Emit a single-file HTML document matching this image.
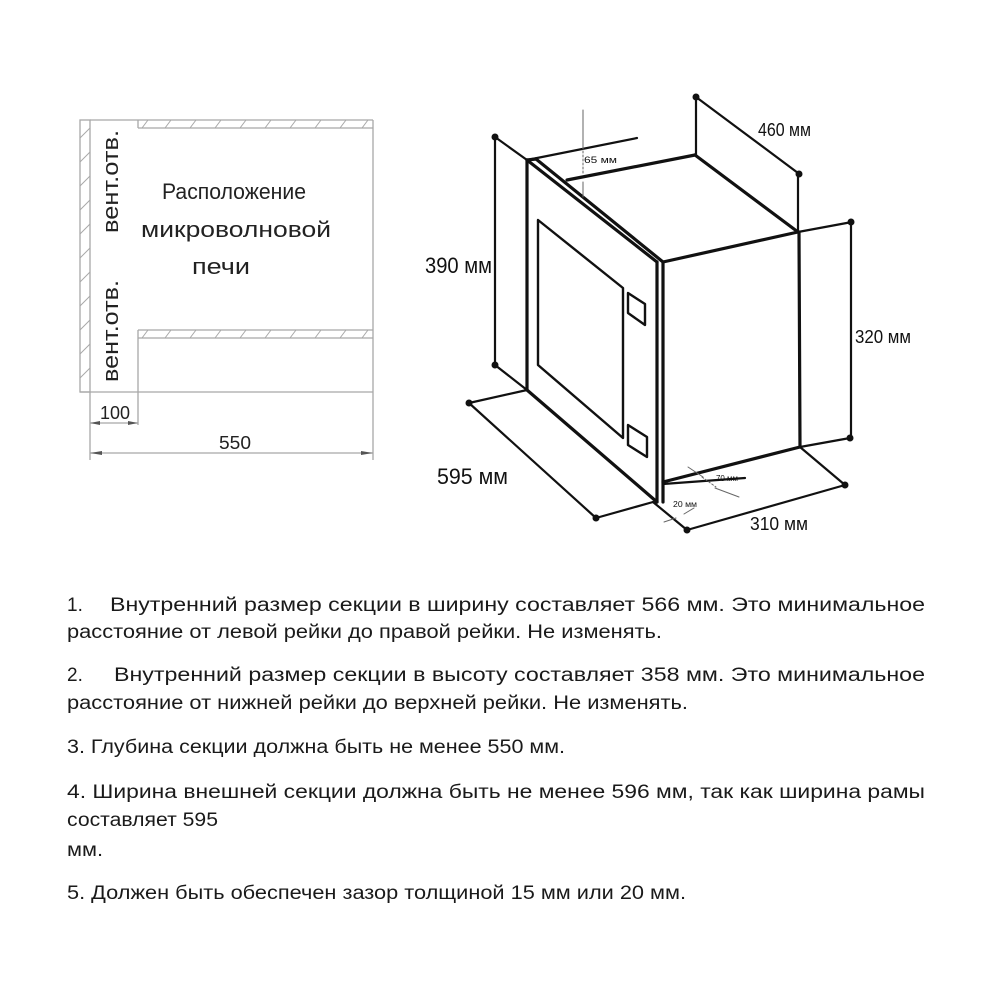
<!DOCTYPE html>
<html><head><meta charset="utf-8"><style>
html,body{margin:0;padding:0;background:#fff;}
svg{display:block;}
</style></head><body>
<svg width="1000" height="1000" viewBox="0 0 1000 1000" xmlns="http://www.w3.org/2000/svg" font-family="Liberation Sans, sans-serif">
<rect width="1000" height="1000" fill="#fff"/>
<!-- LEFT DIAGRAM -->
<g stroke="#a8a8a8" stroke-width="1.3" fill="none">
  <rect x="80" y="120" width="10" height="272"/>
  <line x1="90" y1="120" x2="373" y2="120"/>
  <line x1="138" y1="128" x2="373" y2="128"/>
  <line x1="138" y1="120" x2="138" y2="128"/>
  <line x1="373" y1="120" x2="373" y2="392"/>
  <line x1="138" y1="330" x2="373" y2="330"/>
  <line x1="138" y1="338" x2="373" y2="338"/>
  <line x1="138" y1="330" x2="138" y2="425"/>
  <line x1="80" y1="392" x2="373" y2="392"/>
  <line x1="90" y1="392" x2="90" y2="460"/>
  <line x1="373" y1="392" x2="373" y2="460"/>
  <line x1="90" y1="423" x2="138" y2="423"/>
  <line x1="90" y1="453" x2="373" y2="453"/>
</g>
<g stroke="#a8a8a8" stroke-width="1">
  <path d="M80 138l10-10M80 162l10-10M80 186l10-10M80 210l10-10M80 234l10-10M80 258l10-10M80 282l10-10M80 306l10-10M80 330l10-10M80 354l10-10M80 378l10-10"/>
  <path d="M142 128l6-8M165 128l6-8M190 128l6-8M215 128l6-8M240 128l6-8M265 128l6-8M290 128l6-8M315 128l6-8M340 128l6-8M362 128l6-8"/>
  <path d="M142 338l6-8M165 338l6-8M190 338l6-8M215 338l6-8M240 338l6-8M265 338l6-8M290 338l6-8M315 338l6-8M340 338l6-8M362 338l6-8"/>
</g>
<g fill="#555">
  <path d="M90 423l10-2v4z"/><path d="M138 423l-10-2v4z"/>
  <path d="M90 453l12-2v4z"/><path d="M373 453l-12-2v4z"/>
</g>
<g fill="#222" font-size="22">
  <text transform="translate(118,233) rotate(-90)" textLength="103" lengthAdjust="spacingAndGlyphs">вент.отв.</text>
  <text transform="translate(118,382) rotate(-90)" textLength="102" lengthAdjust="spacingAndGlyphs">вент.отв.</text>
  <text x="162" y="199" textLength="144" lengthAdjust="spacingAndGlyphs">Расположение</text>
  <text x="141" y="237" textLength="190" lengthAdjust="spacingAndGlyphs">микроволновой</text>
  <text x="192" y="274" textLength="58" lengthAdjust="spacingAndGlyphs">печи</text>
  <text x="100" y="419" font-size="18" textLength="30" lengthAdjust="spacingAndGlyphs">100</text>
  <text x="219" y="449" font-size="18" textLength="32" lengthAdjust="spacingAndGlyphs">550</text>
</g>
<!-- RIGHT DIAGRAM -->
<g stroke="#111" fill="none" stroke-linecap="round" stroke-linejoin="round">
  <g stroke-width="2.2">
    <line x1="495" y1="137" x2="495" y2="365"/>
    <line x1="495" y1="137" x2="527" y2="160"/>
    <line x1="495" y1="365" x2="527" y2="390"/>
    <line x1="527" y1="160" x2="637" y2="138"/>
    <line x1="696" y1="97" x2="696" y2="155"/>
    <line x1="696" y1="97" x2="798" y2="173"/>
    <line x1="798" y1="173" x2="798" y2="232"/>
    <line x1="798" y1="232" x2="852" y2="222"/>
    <line x1="851" y1="222" x2="851" y2="438"/>
    <line x1="800" y1="447" x2="850" y2="438"/>
    <line x1="469" y1="403" x2="527" y2="390"/>
    <line x1="469" y1="403" x2="596" y2="518"/>
    <line x1="596" y1="518" x2="653" y2="502"/>
    <line x1="800" y1="447" x2="845" y2="485"/>
    <line x1="845" y1="485" x2="687" y2="530"/>
    <line x1="653" y1="502" x2="687" y2="530"/>
    <line x1="663" y1="484" x2="745" y2="478"/>
  </g>
  <g stroke-width="3.2">
    <line x1="527" y1="160" x2="527" y2="390"/>
    <line x1="527" y1="160" x2="657" y2="262"/>
    <line x1="536" y1="159" x2="663" y2="262"/>
    <line x1="527" y1="160" x2="536" y2="159"/>
    <line x1="657" y1="262" x2="657" y2="502"/>
    <line x1="663" y1="262" x2="663" y2="502"/>
    <line x1="527" y1="390" x2="657" y2="502"/>
    <line x1="567" y1="180" x2="695" y2="155"/>
    <line x1="695" y1="155" x2="798" y2="232"/>
    <line x1="663" y1="262" x2="798" y2="232"/>
    <line x1="799" y1="232" x2="800" y2="447"/>
    <line x1="663" y1="482" x2="800" y2="447"/>
  </g>
  <g stroke-width="2.4">
    <polygon points="538,220 623,288 623,438 538,365"/>
    <polygon points="628,293 645,304 645,325 628,313"/>
    <polygon points="628,425 647,437 647,457 628,445"/>
  </g>
  <g stroke="#666" stroke-width="1">
    <line x1="583" y1="110" x2="583" y2="147"/>
    <line x1="583" y1="147" x2="583" y2="175" stroke-dasharray="2,2"/>
    <line x1="583" y1="182" x2="583" y2="197"/>
    <line x1="688" y1="467" x2="703" y2="477"/>
    <line x1="715" y1="488" x2="739" y2="497"/>
    <line x1="702" y1="477" x2="716" y2="487" stroke-dasharray="2,2"/>
    <line x1="664" y1="522" x2="676" y2="518"/>
    <line x1="684" y1="514" x2="694" y2="508"/>
  </g>
</g>
<g fill="#111">
  <circle cx="495" cy="137" r="3.5"/><circle cx="495" cy="365" r="3.5"/>
  <circle cx="696" cy="97" r="3.5"/><circle cx="799" cy="174" r="3.5"/>
  <circle cx="851" cy="222" r="3.5"/><circle cx="850" cy="438" r="3.5"/>
  <circle cx="469" cy="403" r="3.5"/><circle cx="596" cy="518" r="3.5"/>
  <circle cx="845" cy="485" r="3.5"/><circle cx="687" cy="530" r="3.5"/>
</g>
<g fill="#111" font-size="22">
  <text x="425" y="273" textLength="67" lengthAdjust="spacingAndGlyphs">390 мм</text>
  <text x="758" y="136" font-size="18" textLength="53" lengthAdjust="spacingAndGlyphs">460 мм</text>
  <text x="855" y="343" font-size="18" textLength="56" lengthAdjust="spacingAndGlyphs">320 мм</text>
  <text x="437" y="484" textLength="71" lengthAdjust="spacingAndGlyphs">595 мм</text>
  <text x="750" y="530" font-size="18" textLength="58" lengthAdjust="spacingAndGlyphs">310 мм</text>
  <text x="584" y="163" font-size="9" textLength="33" lengthAdjust="spacingAndGlyphs">65 мм</text>
  <text x="716" y="481" font-size="8" textLength="22" lengthAdjust="spacingAndGlyphs">70 мм</text>
  <text x="673" y="507" font-size="8" textLength="24" lengthAdjust="spacingAndGlyphs">20 мм</text>
</g>
<!-- TEXT -->
<g fill="#1a1a1a" font-size="19">
  <text x="67" y="611">1.</text>
  <text x="110" y="611" textLength="815" lengthAdjust="spacingAndGlyphs">Внутренний  размер  секции  в  ширину  составляет  566  мм.  Это  минимальное</text>
  <text x="67" y="638" textLength="595" lengthAdjust="spacingAndGlyphs">расстояние от левой рейки до правой рейки. Не изменять.</text>
  <text x="67" y="681">2.</text>
  <text x="114" y="681" textLength="811" lengthAdjust="spacingAndGlyphs">Внутренний  размер  секции  в  высоту  составляет  358  мм.   Это  минимальное</text>
  <text x="67" y="709" textLength="621" lengthAdjust="spacingAndGlyphs">расстояние от нижней рейки до верхней рейки. Не изменять.</text>
  <text x="67" y="753" textLength="498" lengthAdjust="spacingAndGlyphs">3. Глубина секции должна быть не менее 550 мм.</text>
  <text x="67" y="798" textLength="858" lengthAdjust="spacingAndGlyphs">4.  Ширина внешней секции должна быть не менее 596 мм, так как ширина рамы</text>
  <text x="67" y="826" textLength="151" lengthAdjust="spacingAndGlyphs">составляет 595</text>
  <text x="67" y="856" textLength="36" lengthAdjust="spacingAndGlyphs">мм.</text>
  <text x="67" y="899" textLength="619" lengthAdjust="spacingAndGlyphs">5. Должен быть обеспечен зазор толщиной 15 мм или 20 мм.</text>
</g>
</svg>
</body></html>
